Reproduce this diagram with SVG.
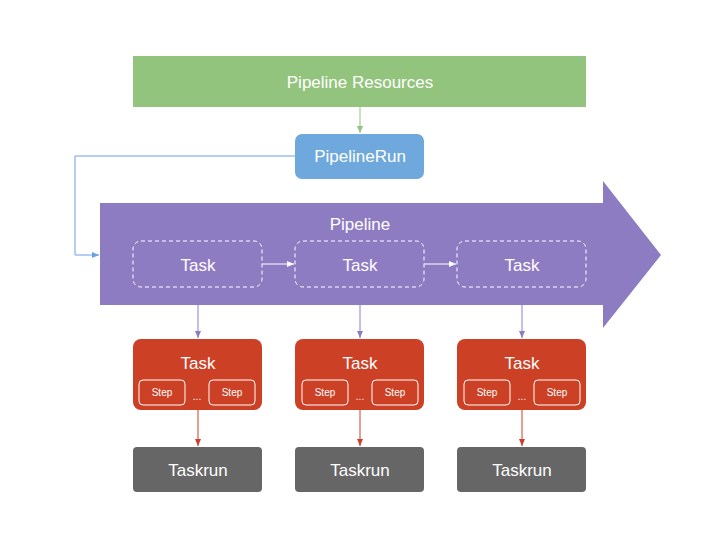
<svg xmlns="http://www.w3.org/2000/svg" width="720" height="540" viewBox="0 0 720 540">
<defs>
<style>
text{font-family:"Liberation Sans",Arial,sans-serif;fill:#fff;text-anchor:middle}
.t{font-size:17px}.s{font-size:10px}
.dash{fill:none;stroke:#fff;stroke-dasharray:4 3;stroke-width:1}
.red{fill:#cc4125}.step{fill:#cc4125;stroke:#fff;stroke-width:1}
.tr{fill:#666}
</style>
<marker id="ab" markerWidth="8" markerHeight="8" refX="7" refY="4" orient="auto" markerUnits="userSpaceOnUse"><path d="M0,1 L7,4 L0,7 Z" fill="#6d9eeb"/></marker>
<marker id="ag" markerWidth="8" markerHeight="8" refX="7" refY="4" orient="auto" markerUnits="userSpaceOnUse"><path d="M0,1 L7,4 L0,7 Z" fill="#93c47d"/></marker>
<marker id="ap" markerWidth="8" markerHeight="8" refX="7" refY="4" orient="auto" markerUnits="userSpaceOnUse"><path d="M0,1 L7,4 L0,7 Z" fill="#8e7cc3"/></marker>
<marker id="ar" markerWidth="8" markerHeight="8" refX="7" refY="4" orient="auto" markerUnits="userSpaceOnUse"><path d="M0,1 L7,4 L0,7 Z" fill="#cc4125"/></marker>
<marker id="aw" markerWidth="8" markerHeight="8" refX="7" refY="4" orient="auto" markerUnits="userSpaceOnUse"><path d="M0,1 L7,4 L0,7 Z" fill="#fff"/></marker>
</defs>
<rect width="720" height="540" fill="#fff"/>
<g id="resources"><rect x="133" y="56" width="453" height="51" fill="#93c47d"/><text x="360" y="82" class="t" dy="6">Pipeline Resources</text></g>
<g id="pipelinerun"><rect x="295" y="134" width="129" height="45" rx="7" fill="#6fa8dc"/><text x="360" y="162" class="t">PipelineRun</text></g>
<g id="pipeline"><path d="M100,203 H603 V181 L661,255 L603,328 V305 H100 Z" fill="#8e7cc3"/><text x="360" y="230" class="t">Pipeline</text>
<rect class="dash" x="133" y="241" width="129" height="46" rx="8"/><text x="198" y="271" class="t">Task</text>
<rect class="dash" x="295" y="241" width="129" height="46" rx="8"/><text x="360" y="271" class="t">Task</text>
<rect class="dash" x="457" y="241" width="129" height="46" rx="8"/><text x="522" y="271" class="t">Task</text></g>
<g id="task1"><rect class="red" x="133" y="339" width="129" height="71" rx="8"/><text x="198" y="369" class="t">Task</text><rect class="step" x="139" y="380" width="46" height="25" rx="4"/><text x="162" y="396" class="s">Step</text><text x="197" y="400" class="s">...</text><rect class="step" x="209" y="380" width="46" height="25" rx="4"/><text x="232" y="396" class="s">Step</text></g>
<g id="task2"><rect class="red" x="295" y="339" width="129" height="71" rx="8"/><text x="360" y="369" class="t">Task</text><rect class="step" x="302" y="380" width="46" height="25" rx="4"/><text x="325" y="396" class="s">Step</text><text x="360" y="400" class="s">...</text><rect class="step" x="372" y="380" width="46" height="25" rx="4"/><text x="395" y="396" class="s">Step</text></g>
<g id="task3"><rect class="red" x="457" y="339" width="129" height="71" rx="8"/><text x="522" y="369" class="t">Task</text><rect class="step" x="464" y="380" width="46" height="25" rx="4"/><text x="487" y="396" class="s">Step</text><text x="522" y="400" class="s">...</text><rect class="step" x="534" y="380" width="46" height="25" rx="4"/><text x="557" y="396" class="s">Step</text></g>
<g id="taskrun1"><rect class="tr" x="133" y="447" width="129" height="45" rx="4"/><text x="198" y="476" class="t">Taskrun</text></g>
<g id="taskrun2"><rect class="tr" x="295" y="447" width="129" height="45" rx="4"/><text x="360" y="476" class="t">Taskrun</text></g>
<g id="taskrun3"><rect class="tr" x="457" y="447" width="129" height="45" rx="4"/><text x="522" y="476" class="t">Taskrun</text></g>
<g id="connectors" fill="none" stroke-width="1">
<path d="M360,107 V133" stroke="#93c47d" marker-end="url(#ag)"/>
<path d="M295,156 H75 V255 H99" stroke="#6d9eeb" marker-end="url(#ab)"/>
<path d="M262,264 H294" stroke="#fff" marker-end="url(#aw)"/>
<path d="M424,264 H456" stroke="#fff" marker-end="url(#aw)"/>
<path d="M198,305 V338" stroke="#8e7cc3" marker-end="url(#ap)"/>
<path d="M360,305 V338" stroke="#8e7cc3" marker-end="url(#ap)"/>
<path d="M522,305 V338" stroke="#8e7cc3" marker-end="url(#ap)"/>
<path d="M198,410 V446" stroke="#cc4125" marker-end="url(#ar)"/>
<path d="M360,410 V446" stroke="#cc4125" marker-end="url(#ar)"/>
<path d="M522,410 V446" stroke="#cc4125" marker-end="url(#ar)"/>
</g>
</svg>
